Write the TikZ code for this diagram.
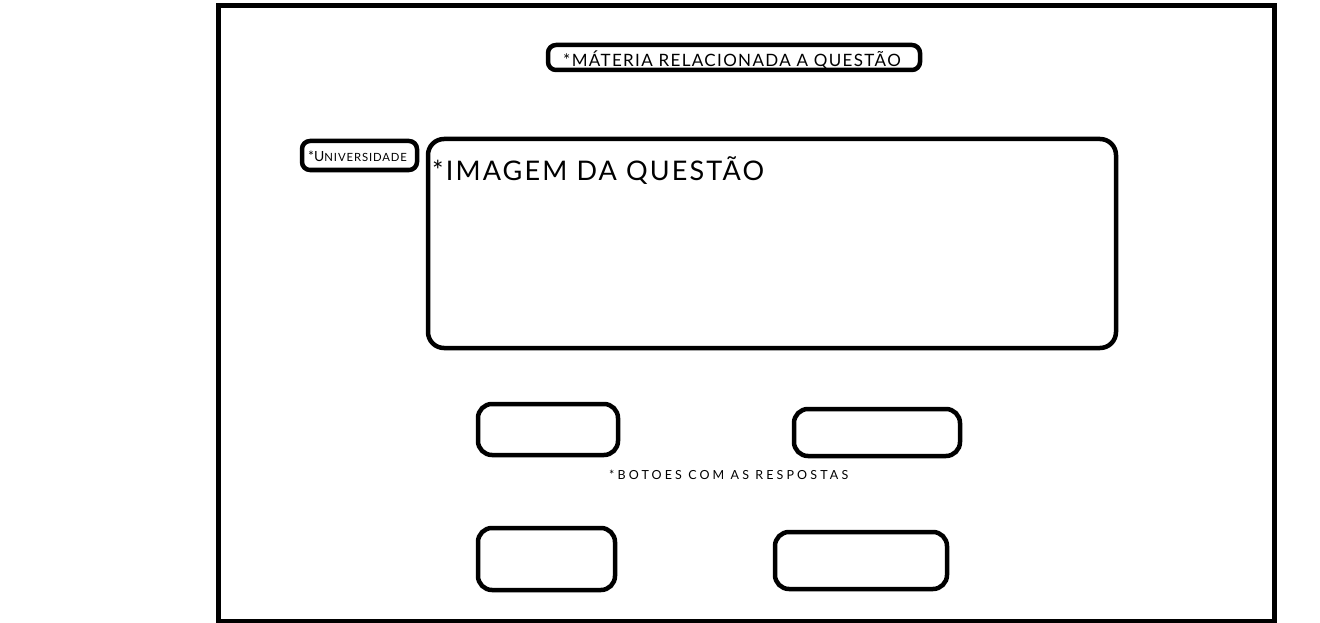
\documentclass[tikz,border=0pt]{standalone}
\usepackage{fontspec}
\setmainfont{Lato}
\newfontfamily\wide[LetterSpace=8]{Lato}
\newfontfamily\wider[LetterSpace=25]{Lato}
\begin{document}
\begin{tikzpicture}[x=1pt,y=-1pt,
  frame/.style={draw=black,line width=5pt},
  rbox/.style={draw=black,line width=4.5pt,rounded corners=12pt},
  lbl/.style={inner sep=0pt,anchor=west,text=black}]
\useasboundingbox (0,0) rectangle (1320,623);
\draw[frame] (218.5,5.5) rectangle (1274.5,621);
% title
\draw[rbox,rounded corners=8pt] (548,45) rectangle (920,70);
\node[lbl,font=\wide\fontsize{17}{17}\selectfont] (title) at (563,60) {*MÁTERIA RELACIONADA A QUESTÃO};
% universidade
\draw[rbox,rounded corners=8pt] (302,141) rectangle (417,170);
\node[lbl] (univ) at (308,156) {\fontsize{14}{14}\selectfont *U\fontsize{11.3}{11.3}\wide\selectfont NIVERSIDADE};
% image
\draw[rbox,rounded corners=16pt] (428,139) rectangle (1116,348);
\node[lbl,font=\wide\fontsize{27}{27}\selectfont] (img) at (432,171) {*IMAGEM DA QUESTÃO};
% buttons
\draw[rbox,rounded corners=14pt] (478,404) rectangle (618,455) node[midway] (b1) {};
\draw[rbox,rounded corners=14pt] (794,409) rectangle (960,456) node[midway] (b2) {};
\draw[rbox,rounded corners=14pt] (478,528) rectangle (615,590) node[midway] (b3) {};
\draw[rbox,rounded corners=14pt] (775,532) rectangle (947,589) node[midway] (b4) {};
\node[lbl,font=\wider\fontsize{12.5}{12.5}\selectfont] (bot) at (609,475) {*BOTOES COM AS RESPOSTAS};
\end{tikzpicture}
\end{document}
